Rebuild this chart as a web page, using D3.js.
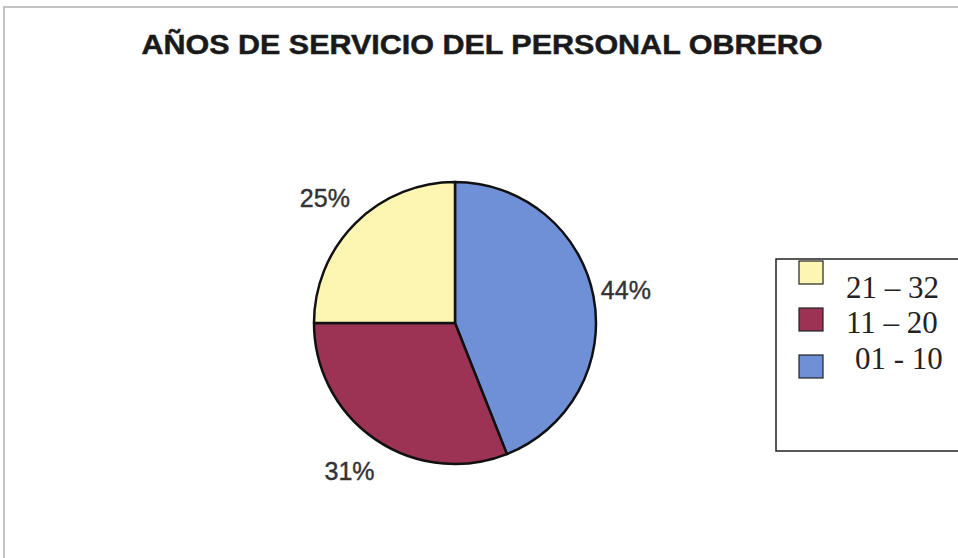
<!DOCTYPE html>
<html>
<head>
<meta charset="utf-8">
<script src="https://cdn.jsdelivr.net/npm/d3@7"></script>
<style>
  html, body { margin: 0; padding: 0; background: #fff; }
</style>
</head>
<body>
<svg id="chart" width="958" height="558"></svg>
<script>
// data
const categories = ['01 - 10', '11 – 20', '21 – 32'];
const values = [44, 31, 25];
const labels = ['44%', '31%', '25%'];
const colors = ['#6f8fd6', '#9c3354', '#fcf6b2'];
const legendOrder = ['21 – 32', '11 – 20', '01 - 10'];

const svg = d3.select('#chart');

// outer frame (only left and top edges are visible)
svg.append('path')
  .attr('d', 'M4,558 V7 H958')
  .attr('fill', 'none')
  .attr('stroke', '#b0b0b0')
  .attr('stroke-width', 1.5);

svg.append('text')
  .attr('x', 482)
  .attr('y', 54)
  .attr('text-anchor', 'middle')
  .attr('font-family', '"Liberation Sans Narrow", "Arial Narrow", "Liberation Sans", Arial, sans-serif')
  .attr('font-weight', 'bold')
  .attr('font-size', 28)
  .attr('fill', '#1a1a1a')
  .attr('stroke', '#1a1a1a')
  .attr('stroke-width', 0.5)
  .attr('textLength', 681)
  .attr('lengthAdjust', 'spacingAndGlyphs')
  .text('AÑOS DE SERVICIO DEL PERSONAL OBRERO');

// pie
const cx = 455, cy = 323, r = 141;
const pie = d3.pie().sort(null).value(d => d)(values);
const arc = d3.arc().innerRadius(0).outerRadius(r);

const g = svg.append('g').attr('transform', `translate(${cx},${cy})`);
g.selectAll('path')
  .data(pie)
  .join('path')
  .attr('d', arc)
  .attr('fill', (d, i) => colors[i])
  .attr('stroke', '#111')
  .attr('stroke-width', 2.5)
  .attr('stroke-linejoin', 'round');

// percentage labels outside the pie
const labelArc = d3.arc().innerRadius(r + 36).outerRadius(r + 36);
const nudge = [[-3, 0], [-6, 2], [-5, 0]];
g.selectAll('text.pct')
  .data(pie)
  .join('text')
  .attr('class', 'pct')
  .attr('x', (d, i) => labelArc.centroid(d)[0] + nudge[i][0])
  .attr('y', (d, i) => labelArc.centroid(d)[1] + nudge[i][1])
  .attr('dy', '0.35em')
  .attr('text-anchor', 'middle')
  .attr('font-family', '"Liberation Sans", Arial, sans-serif')
  .attr('font-size', 25)
  .attr('fill', '#333')
  .attr('stroke', '#333')
  .attr('stroke-width', 0.4)
  .text((d, i) => labels[i]);

// legend
const legend = svg.append('g');
legend.append('path')
  .attr('d', 'M958,259 H776 V451 H958')
  .attr('fill', '#fff')
  .attr('stroke', '#222')
  .attr('stroke-width', 1.5);

const ly = d3.scalePoint().domain(legendOrder).range([261, 355]);
const colorOf = d3.scaleOrdinal().domain(categories).range(colors);

const items = legend.selectAll('g.item')
  .data(legendOrder)
  .join('g')
  .attr('class', 'item')
  .attr('transform', d => `translate(799,${ly(d)})`);

items.append('rect')
  .attr('width', 24)
  .attr('height', 23)
  .attr('fill', d => colorOf(d))
  .attr('stroke', '#222')
  .attr('stroke-width', 1.2);

items.append('text')
  .attr('x', (d, i) => i === 2 ? 56 : 47)
  .attr('y', (d, i) => i === 0 ? 37 : (i === 1 ? 25 : 14))
  .attr('font-family', '"Liberation Serif", "Times New Roman", serif')
  .attr('font-size', 31)
  .attr('fill', '#222')
  .text(d => d);
</script>
</body>
</html>
